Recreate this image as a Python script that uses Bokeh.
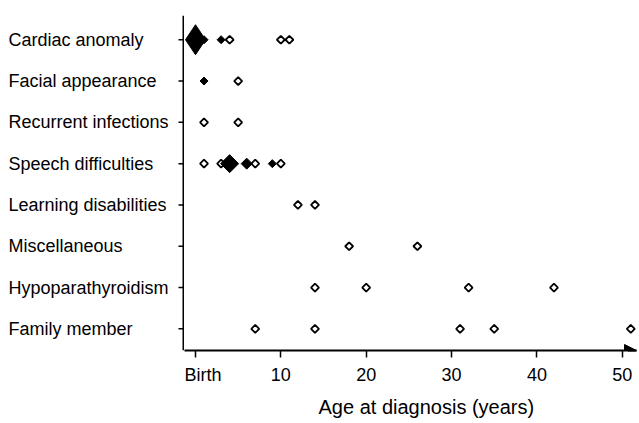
import math
from bokeh.plotting import figure
from bokeh.layouts import row
from bokeh.models import FixedTicker, Arrow, NormalHead, ColumnDataSource, Range1d, Title
from bokeh.core.properties import value
from bokeh.embed import file_html
from bokeh.resources import INLINE

# ---- data ----
categories = ["Cardiac anomaly", "Facial appearance", "Recurrent infections",
              "Speech difficulties", "Learning disabilities", "Miscellaneous",
              "Hypoparathyroidism", "Family member"]

# filled (black) diamonds: category, age, number of cases (marker size)
filled_cat = ["Cardiac anomaly", "Cardiac anomaly", "Cardiac anomaly",
              "Facial appearance",
              "Speech difficulties", "Speech difficulties", "Speech difficulties"]
filled_age = [0, 1, 3, 1, 4, 6, 9]
filled_n = [6, 1, 1, 1, 4, 2, 1]

# open diamonds: category, age
open_cat = ["Cardiac anomaly", "Cardiac anomaly", "Cardiac anomaly",
            "Facial appearance",
            "Recurrent infections", "Recurrent infections",
            "Speech difficulties", "Speech difficulties", "Speech difficulties", "Speech difficulties",
            "Learning disabilities", "Learning disabilities",
            "Miscellaneous", "Miscellaneous",
            "Hypoparathyroidism", "Hypoparathyroidism", "Hypoparathyroidism", "Hypoparathyroidism",
            "Family member", "Family member", "Family member", "Family member", "Family member"]
open_age = [4, 10, 11,
            5,
            1, 5,
            1, 3, 7, 10,
            12, 14,
            18, 26,
            14, 20, 32, 42,
            7, 14, 31, 35, 51]

x_ticks = [0, 10, 20, 30, 40, 50]
x_tick_labels = ["Birth", "10", "20", "30", "40", "50"]
x_title = "Age at diagnosis (years)"

# ---- layout ----
FONT = "Liberation Sans"
PX = 8.535                 # pixels per year
LEFT_W = 184               # left panel: category labels + y axis line/ticks
MAIN_W = 639 - LEFT_W
H = 423
TOP, BOTTOM = 15, 72
FRAME_W = MAIN_W - 3
x_start = (LEFT_W - 195) / PX
x_end = x_start + FRAME_W / PX
yr = Range1d(-0.524, 7.587)
AXIS_X = LEFT_W - 1        # y axis line position inside the left panel
TICK_LEN = 5

ypos = {c: len(categories) - 1 - i for i, c in enumerate(categories)}
cat_y = [ypos[c] for c in categories]

# left panel: left-aligned category labels, y axis line and ticks
lp = figure(width=LEFT_W, height=H, x_range=Range1d(0, LEFT_W), y_range=yr,
            output_backend="svg", toolbar_location=None,
            min_border_left=0, min_border_right=0,
            min_border_top=TOP, min_border_bottom=BOTTOM)
lp.axis.visible = False
lp.grid.visible = False
lp.outline_line_color = None
lsrc = ColumnDataSource(dict(x=[8] * len(categories), y=cat_y, t=categories))
lp.text("x", "y", text="t", source=lsrc, text_align="left", text_baseline="middle",
        text_font=value(FONT), text_font_size="18px", text_color="black")
lp.segment(x0=[AXIS_X], y0=[yr.start], x1=[AXIS_X], y1=[yr.end],
           line_color="black", line_width=2)
lp.segment(x0=[AXIS_X - TICK_LEN] * len(cat_y), y0=cat_y,
           x1=[AXIS_X] * len(cat_y), y1=cat_y, line_color="black", line_width=1.5)

# main panel
p = figure(width=MAIN_W, height=H, x_range=Range1d(x_start, x_end),
           y_range=yr, output_backend="svg",
           toolbar_location=None, min_border_left=0, min_border_right=3,
           min_border_top=TOP, min_border_bottom=BOTTOM)
p.outline_line_color = None
p.xgrid.visible = False
p.ygrid.visible = False
p.yaxis.visible = False

xa = p.xaxis[0]
xa.ticker = FixedTicker(ticks=x_ticks)
xa.major_label_overrides = {t: l for t, l in zip(x_ticks, x_tick_labels)}
xa.axis_line_width = 2
xa.axis_line_color = "black"
xa.major_tick_line_width = 1.5
xa.major_tick_line_color = "black"
xa.major_tick_out = 7
xa.major_tick_in = 0
xa.minor_tick_line_color = None
xa.major_label_standoff = 7
xa.major_label_text_font = FONT
xa.major_label_text_font_size = "18px"
xa.major_label_text_color = "black"

p.add_layout(Title(text=x_title, align="left", offset=318 - LEFT_W, standoff=12,
                   text_font=FONT, text_font_size="20px", text_font_style="normal",
                   text_color="black"), "below")

# arrow head at end of x axis
p.add_layout(Arrow(end=NormalHead(size=12, fill_color="black", line_color="black"),
                   x_start=x_end - 1.0, y_start=yr.start, x_end=x_end, y_end=yr.start,
                   line_width=2, line_color="black"))

# open diamonds
osrc = ColumnDataSource(dict(x=open_age, y=[ypos[c] for c in open_cat]))
p.scatter("x", "y", source=osrc, marker="square", angle=math.pi / 4, size=5.6,
          fill_color="white", line_color="black", line_width=1.8)

# filled diamonds (size grows with number of cases)
diag = {1: 8, 2: 11, 4: 18}
fx, fy, fs, fm, fa = [], [], [], [], []
for c, a, n in zip(filled_cat, filled_age, filled_n):
    fx.append(a)
    fy.append(ypos[c])
    if n >= 6:
        fm.append("diamond"); fs.append(30); fa.append(0.0)
    else:
        fm.append("square"); fs.append(diag[n] / math.sqrt(2)); fa.append(math.pi / 4)
fsrc = ColumnDataSource(dict(x=fx, y=fy, s=fs, m=fm, a=fa))
p.scatter("x", "y", source=fsrc, marker="m", size="s", angle="a",
          fill_color="black", line_color="black", line_width=1)

layout = row(lp, p, spacing=0)
open("out.html", "w").write(file_html(layout, INLINE))
